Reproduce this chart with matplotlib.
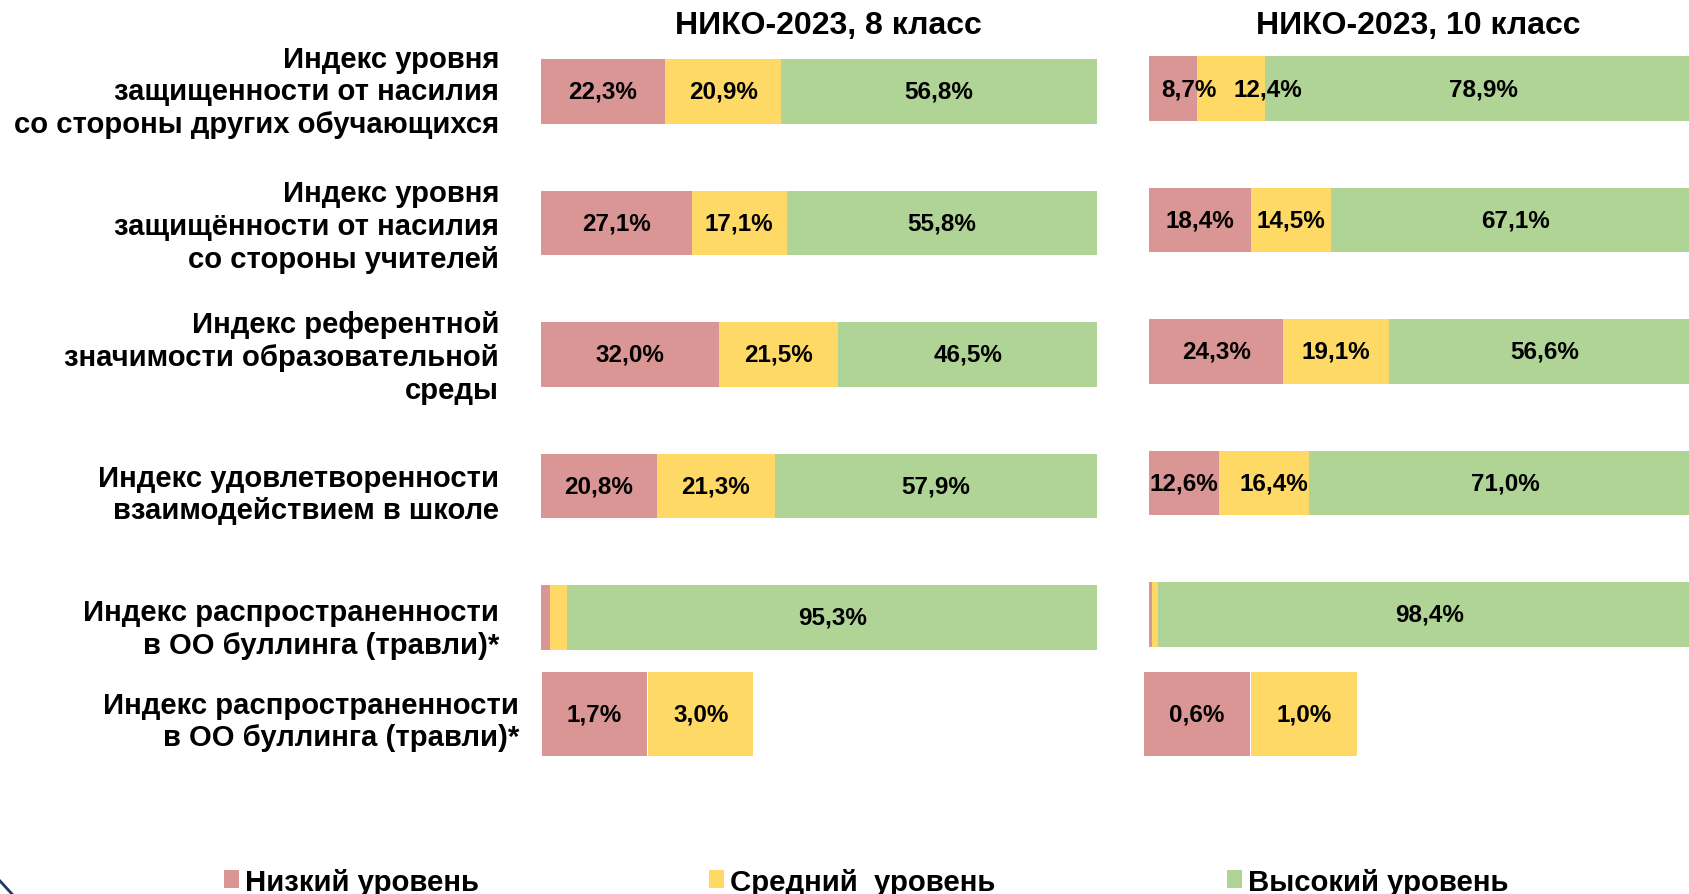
import matplotlib
matplotlib.use("Agg")
import matplotlib.pyplot as plt
from matplotlib.patches import Rectangle
from matplotlib.lines import Line2D

plt.rcParams['font.family'] = ['Liberation Sans', 'DejaVu Sans']
plt.rcParams['font.weight'] = 'bold'

W, H = 1689, 895

# data
row_labels = [
    "Индекс уровня\nзащищенности от насилия\nсо стороны других обучающихся",
    "Индекс уровня\nзащищённости от насилия\nсо стороны учителей",
    "Индекс референтной\nзначимости образовательной\nсреды",
    "Индекс удовлетворенности\nвзаимодействием в школе",
    "Индекс распространенности\nв ОО буллинга (травли)*",
]
bully_label = "Индекс распространенности\nв ОО буллинга (травли)*"
titles = ["НИКО-2023, 8 класс", "НИКО-2023, 10 класс"]
levels = ["Низкий уровень", "Средний  уровень", "Высокий уровень"]

low_8 = [22.3, 27.1, 32.0, 20.8, 1.7]
mid_8 = [20.9, 17.1, 21.5, 21.3, 3.0]
high_8 = [56.8, 55.8, 46.5, 57.9, 95.3]

low_10 = [8.7, 18.4, 24.3, 12.6, 0.6]
mid_10 = [12.4, 14.5, 19.1, 16.4, 1.0]
high_10 = [78.9, 67.1, 56.6, 71.0, 98.4]

colors = ['#D99694', '#FFD966', '#B0D396']


def fmt(v):
    return f"{v:.1f}".replace('.', ',') + '%'


def rect(x0, y_top, x1, y_bot):
    return [x0 / W, 1 - y_bot / H, (x1 - x0) / W, (y_bot - y_top) / H]


fig = plt.figure(figsize=(W / 100, H / 100), dpi=100)

# label nudges (pixels) for crowded labels in the 10th grade panel
nudge_10 = {(0, 0): 16, (0, 1): 37, (3, 1): 10}

panels = [
    (rect(541, 26.75, 1097, 684.25), [low_8, mid_8, high_8], {}),
    (rect(1149, 23.75, 1701, 681.25), [low_10, mid_10, high_10], nudge_10),
]

for box, series, nudge in panels:
    ax = fig.add_axes(box)
    ypos = list(range(len(row_labels)))
    left = [0] * len(ypos)
    for k, vals in enumerate(series):
        ax.barh(ypos, vals, left=left, height=0.494, color=colors[k], linewidth=0)
        for i, v in enumerate(vals):
            if v >= 5:
                dx = nudge.get((i, k), 0)
                ax.annotate(fmt(v), (left[i] + v / 2, i), xytext=(dx * 0.72, 0),
                            textcoords='offset points', ha='center', va='center',
                            fontsize=17.5, fontweight='bold')
        left = [a + b for a, b in zip(left, vals)]
    ax.set_xlim(0, 100)
    ax.set_ylim(len(ypos) - 0.5, -0.5)
    ax.axis('off')

# separate boxes with small bullying values
boxes = [
    (rect(541, 673, 754, 757), [low_8[-1], mid_8[-1]]),
    (rect(1143, 673, 1358, 757), [low_10[-1], mid_10[-1]]),
]
for box, vals in boxes:
    ax = fig.add_axes(box)
    xs = list(range(len(vals)))
    ax.bar(xs, [1] * len(vals), width=0.985, color=colors[:len(vals)], linewidth=0)
    for x, v in zip(xs, vals):
        ax.text(x, 0.5, fmt(v), ha='center', va='center', fontsize=17.5, fontweight='bold')
    ax.set_xlim(-0.5, len(vals) - 0.5)
    ax.set_ylim(0, 1)
    ax.axis('off')

# row labels
row_centers = [92.5, 227, 358, 495, 629.5]
for lab, yc in zip(row_labels, row_centers):
    fig.text(499 / W, 1 - yc / H, lab, ha='right', va='center', multialignment='right',
             fontsize=21.1, fontweight='bold', linespacing=1.21)
fig.text(519 / W, 1 - 722 / H, bully_label, ha='right', va='center', multialignment='right',
         fontsize=21.1, fontweight='bold', linespacing=1.21)

# titles
fig.text(828 / W, 1 - 26 / H, titles[0], ha='center', va='center', fontsize=23, fontweight='bold')
fig.text(1418 / W, 1 - 26 / H, titles[1], ha='center', va='center', fontsize=23, fontweight='bold')

# legend
legend_x = [224, 709, 1227]
for xl, lab, c in zip(legend_x, levels, colors):
    fig.patches.append(Rectangle((xl / W, 1 - 889 / H), 15 / W, 18 / H,
                                 transform=fig.transFigure, color=c, linewidth=0))
    fig.text((xl + 21) / W, 1 - 883 / H, lab, ha='left', va='center', fontsize=21.2, fontweight='bold')

# corner decoration
fig.add_artist(Line2D([0, 12 / W], [1 - 882 / H, 1 - 895 / H], color='#1F3864', lw=2))

fig.savefig('out.png', dpi=100)
